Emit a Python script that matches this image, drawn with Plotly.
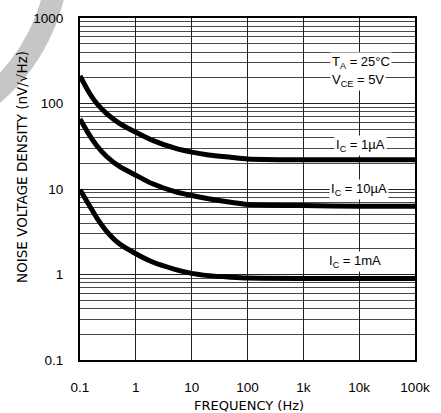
import math
import plotly.graph_objects as go

# Noise voltage density vs frequency for three collector currents
freq_hz = [0.1, 0.15, 0.2, 0.3, 0.5, 1, 2, 5, 10, 20, 50, 100, 1000, 10000, 100000]
noise_1ua = [210, 130, 100, 76, 59, 46, 37, 30, 27, 25, 23.5, 22.5, 22, 22, 22]
noise_10ua = [66, 42, 32, 24, 18.5, 14.5, 11.5, 9.3, 8.4, 7.7, 7.0, 6.6, 6.4, 6.3, 6.3]
noise_1ma = [9.8, 6.3, 4.6, 3.2, 2.3, 1.75, 1.4, 1.15, 1.03, 0.97, 0.93, 0.91, 0.9, 0.9, 0.9]

x_tickvals = [0.1, 1, 10, 100, 1000, 10000, 100000]
x_ticktext = ["0.1", "1", "10", "100", "1k", "10k", "100k"]
y_tickvals = [0.1, 1, 10, 100, 1000]
y_ticktext = ["0.1", "1", "10", "100", "1000"]
y_minor = [m * 10 ** e for e in range(-1, 3) for m in range(2, 10)]

FONT = "Liberation Sans, Arial, sans-serif"
WIDE = "DejaVu Sans, sans-serif"

fig = go.Figure()
for ys in (noise_1ua, noise_10ua, noise_1ma):
    fig.add_trace(go.Scatter(
        x=freq_hz, y=ys, mode="lines",
        line=dict(color="black", width=5, shape="spline", smoothing=0.8),
        showlegend=False, hoverinfo="skip",
    ))

fig.update_layout(
    width=441, height=413,
    margin=dict(l=80, r=11, t=12, b=53),
    paper_bgcolor="white", plot_bgcolor="white",
    font=dict(family=FONT, size=13, color="black"),
    xaxis=dict(
        type="log", range=[-1, 5],
        tickvals=x_tickvals, ticktext=x_ticktext,
        showgrid=True, gridcolor="#222", gridwidth=1,
        showline=True, linecolor="black", linewidth=2, mirror=True,
        ticks="", zeroline=False, ticklabelstandoff=14,
        ticklabeloverflow="allow",
        tickfont=dict(size=13.5),
    ),
    yaxis=dict(
        type="log", range=[-1, 3],
        tickvals=y_tickvals, ticktext=y_ticktext,
        showgrid=True, gridcolor="#222", gridwidth=1,
        minor=dict(tickvals=y_minor, showgrid=True, gridcolor="#4a4a4a",
                   gridwidth=1, ticks=""),
        showline=True, linecolor="black", linewidth=2, mirror=True,
        ticks="", zeroline=False, ticklabelstandoff=12,
        tickfont=dict(size=13.5),
    ),
)


def px_to_paper(px, py):
    return (px - 80) / 350, (360 - py) / 348


# light grey arc across the upper-left corner
cx, cy, r = -133, -57, 191
x0, y1 = px_to_paper(cx - r, cy - r)
x1, y0 = px_to_paper(cx + r, cy + r)
fig.add_shape(type="circle", xref="paper", yref="paper",
              x0=x0, y0=y0, x1=x1, y1=y1,
              line=dict(color="#c6c6c6", width=22), layer="below")

# condition and curve labels (frequency in Hz, density in nV/√Hz)
labels = [
    (3000, 302, "T<sub>A</sub> = 25°C"),
    (3000, 185, "V<sub>CE</sub> = 5V"),
    (3500, 32, "I<sub>C</sub> = 1µA"),
    (2900, 9.8, "I<sub>C</sub> = 10µA"),
    (2600, 1.42, "I<sub>C</sub> = 1mA"),
]
for fx, fy, txt in labels:
    fig.add_annotation(x=math.log10(fx), y=math.log10(fy), xref="x", yref="y", text=txt,
                       xanchor="left", yanchor="middle", showarrow=False,
                       bgcolor="white", borderpad=1,
                       font=dict(size=13, family=FONT))

# axis titles
ax, ay = px_to_paper(20, 164)
fig.add_annotation(x=ax, y=ay, xref="paper", yref="paper",
                   text="NOISE VOLTAGE DENSITY (nV/√Hz)", textangle=-90,
                   xanchor="center", yanchor="middle", showarrow=False,
                   font=dict(size=13.5, family=WIDE))
bx, by = px_to_paper(257, 406)
fig.add_annotation(x=bx, y=by, xref="paper", yref="paper", text="FREQUENCY (Hz)",
                   xanchor="center", yanchor="middle", showarrow=False,
                   font=dict(size=13, family=WIDE))

fig.write_html("out.html")
